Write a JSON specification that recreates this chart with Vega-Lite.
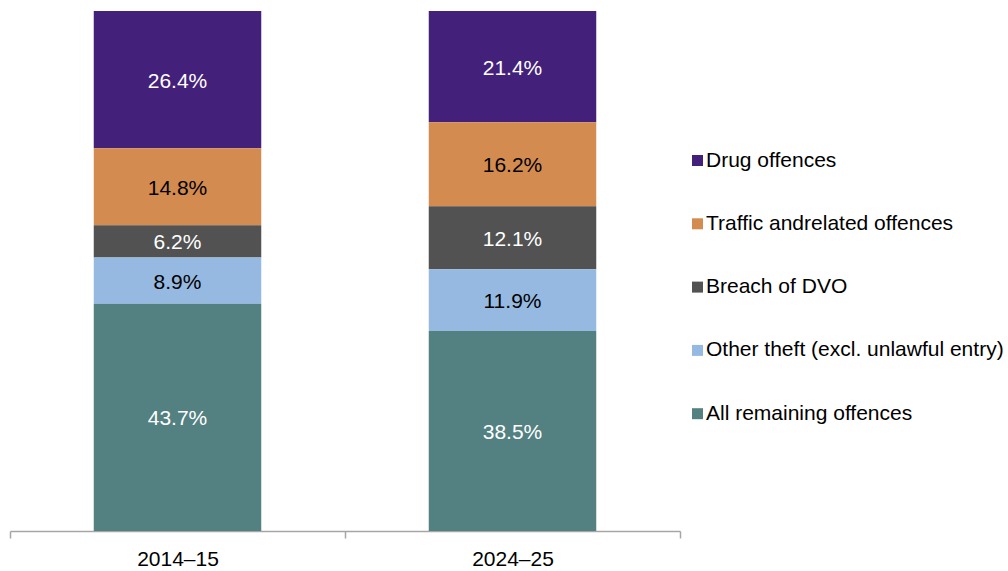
{
  "$schema": "https://vega.github.io/schema/vega-lite/v6.json",
  "width": 670,
  "height": 520,
  "autosize": "none",
  "padding": {"left": 10, "top": 11, "right": 328, "bottom": 40},
  "background": "white",
  "config": {"view": {"stroke": null}, "font": "Liberation Sans"},
  "data": {
    "values": [
      {"year": "2014–15", "offence": "Drug offences", "order": 5, "pct": 0.264},
      {"year": "2014–15", "offence": "Traffic andrelated offences", "order": 4, "pct": 0.148},
      {"year": "2014–15", "offence": "Breach of DVO", "order": 3, "pct": 0.062},
      {"year": "2014–15", "offence": "Other theft (excl. unlawful entry)", "order": 2, "pct": 0.089},
      {"year": "2014–15", "offence": "All remaining offences", "order": 1, "pct": 0.437},
      {"year": "2024–25", "offence": "Drug offences", "order": 5, "pct": 0.214},
      {"year": "2024–25", "offence": "Traffic andrelated offences", "order": 4, "pct": 0.162},
      {"year": "2024–25", "offence": "Breach of DVO", "order": 3, "pct": 0.121},
      {"year": "2024–25", "offence": "Other theft (excl. unlawful entry)", "order": 2, "pct": 0.119},
      {"year": "2024–25", "offence": "All remaining offences", "order": 1, "pct": 0.385}
    ]
  },
  "encoding": {
    "x": {
      "field": "year",
      "type": "nominal",
      "scale": {"paddingInner": 0, "paddingOuter": 0},
      "axis": {
        "title": null,
        "labelAngle": 0,
        "labelFontSize": 21,
        "labelColor": "#000000",
        "labelPadding": 10,
        "domainColor": "#A6A6A6",
        "tickColor": "#A6A6A6",
        "tickBand": "extent",
        "tickSize": 7,
        "domainWidth": 1.5,
        "tickWidth": 1.5
      }
    },
    "y": {
      "field": "pct",
      "type": "quantitative",
      "stack": "normalize",
      "scale": {"domain": [0, 1], "nice": false},
      "axis": null
    },
    "order": {"field": "order", "type": "quantitative"}
  },
  "layer": [
    {
      "mark": {"type": "bar", "width": {"band": 0.5}},
      "encoding": {
        "color": {
          "field": "offence",
          "type": "nominal",
          "scale": {
            "domain": ["Drug offences", "Traffic andrelated offences", "Breach of DVO", "Other theft (excl. unlawful entry)", "All remaining offences"],
            "range": ["#43207A", "#D38B50", "#525252", "#95B9E1", "#538081"]
          },
          "legend": {
            "title": null,
            "orient": "none",
            "legendX": 677,
            "legendY": 139,
            "padding": 0,
            "symbolType": "square",
            "symbolSize": 121,
            "symbolStrokeWidth": 0,
            "labelFontSize": 21,
            "labelColor": "#000000",
            "labelOffset": -2,
            "rowPadding": 41.3,
            "labelLimit": 400
          }
        }
      }
    },
    {
      "mark": {"type": "text", "fontSize": 21, "baseline": "middle", "align": "center", "dy": 2},
      "encoding": {
        "y": {
          "field": "pct",
          "type": "quantitative",
          "stack": "normalize",
          "bandPosition": 0.5
        },
        "text": {"field": "pct", "type": "quantitative", "format": ".1%"},
        "color": {
          "condition": {
            "test": "datum.offence === 'Traffic andrelated offences' || datum.offence === 'Other theft (excl. unlawful entry)'",
            "value": "#000000"
          },
          "value": "#FFFFFF"
        }
      }
    }
  ]
}
